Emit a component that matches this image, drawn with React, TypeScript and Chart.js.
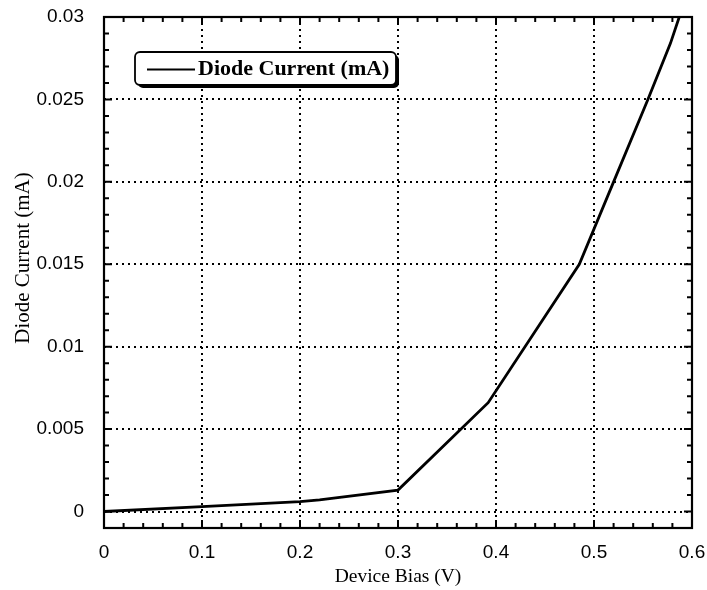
import React, { useEffect, useRef } from "react";
import { Chart, registerables } from "chart.js";

Chart.register(...registerables);

// Measured diode current versus applied device bias
const biasV = [0, 0.1, 0.2, 0.22, 0.3, 0.392, 0.485, 0.52, 0.555, 0.578, 0.587];
const currentMA = [0, 0.0003, 0.0006, 0.0007, 0.0013, 0.0066, 0.015, 0.02, 0.025, 0.0284, 0.03];

// Axis ticks and their labels
const xTickValues = [0, 0.1, 0.2, 0.3, 0.4, 0.5, 0.6];
const xTickLabels = ["0", "0.1", "0.2", "0.3", "0.4", "0.5", "0.6"];
const yTickValues = [0, 0.005, 0.01, 0.015, 0.02, 0.025, 0.03];
const yTickLabels = ["0", "0.005", "0.01", "0.015", "0.02", "0.025", "0.03"];

const seriesLabel = "Diode Current (mA)";
const xTitle = "Device Bias (V)";
const yTitle = "Diode Current (mA)";

const X_MIN = 0, X_MAX = 0.6, X_MINOR = 0.02;
const Y_MIN = -0.001, Y_MAX = 0.03, Y_MINOR = 0.001;

// Dotted grid, boxed frame with inward ticks on all four sides, shadowed legend box, y title
const framePlugin = {
  id: "frameAndGrid",
  beforeDatasetsDraw(chart: any) {
    const { ctx, chartArea: a, scales } = chart;
    const x = scales.x, y = scales.y;
    ctx.save();
    ctx.strokeStyle = "#000";
    ctx.lineWidth = 2;
    ctx.setLineDash([2, 4]);
    for (const v of xTickValues) {
      const px = Math.round(x.getPixelForValue(v));
      ctx.beginPath();
      ctx.moveTo(px, a.top);
      ctx.lineTo(px, a.bottom);
      ctx.stroke();
    }
    for (const v of yTickValues) {
      const py = Math.round(y.getPixelForValue(v));
      ctx.beginPath();
      ctx.moveTo(a.left, py);
      ctx.lineTo(a.right, py);
      ctx.stroke();
    }
    ctx.restore();
  },
  afterDatasetsDraw(chart: any) {
    const { ctx, chartArea: a, scales } = chart;
    const x = scales.x, y = scales.y;
    ctx.save();
    ctx.strokeStyle = "#000";
    ctx.setLineDash([]);
    ctx.lineWidth = 2.2;
    ctx.strokeRect(a.left, a.top, a.right - a.left, a.bottom - a.top);

    ctx.lineWidth = 2;
    const nx = Math.round((X_MAX - X_MIN) / X_MINOR);
    for (let i = 0; i <= nx; i++) {
      const v = X_MIN + i * X_MINOR;
      const len = i % 5 === 0 ? 8 : 5;
      const px = x.getPixelForValue(v);
      ctx.beginPath();
      ctx.moveTo(px, a.bottom);
      ctx.lineTo(px, a.bottom - len);
      ctx.moveTo(px, a.top);
      ctx.lineTo(px, a.top + len);
      ctx.stroke();
    }
    const ny = Math.round((Y_MAX - Y_MIN) / Y_MINOR);
    for (let i = 0; i <= ny; i++) {
      const v = Y_MIN + i * Y_MINOR;
      const k = Math.round(v / Y_MINOR);
      const len = k % 5 === 0 ? 8 : 5;
      const py = y.getPixelForValue(v);
      ctx.beginPath();
      ctx.moveTo(a.left, py);
      ctx.lineTo(a.left + len, py);
      ctx.moveTo(a.right, py);
      ctx.lineTo(a.right - len, py);
      ctx.stroke();
    }

    // legend box
    const bx = a.left + 31, by = a.top + 35, bw = 261, bh = 33, r = 5;
    const rr = (x0: number, y0: number) => {
      ctx.beginPath();
      ctx.moveTo(x0 + r, y0);
      ctx.lineTo(x0 + bw - r, y0);
      ctx.arcTo(x0 + bw, y0, x0 + bw, y0 + r, r);
      ctx.lineTo(x0 + bw, y0 + bh - r);
      ctx.arcTo(x0 + bw, y0 + bh, x0 + bw - r, y0 + bh, r);
      ctx.lineTo(x0 + r, y0 + bh);
      ctx.arcTo(x0, y0 + bh, x0, y0 + bh - r, r);
      ctx.lineTo(x0, y0 + r);
      ctx.arcTo(x0, y0, x0 + r, y0, r);
      ctx.closePath();
    };
    ctx.fillStyle = "#000";
    rr(bx + 3, by + 3);
    ctx.fill();
    ctx.fillStyle = "#fff";
    rr(bx, by);
    ctx.fill();
    ctx.lineWidth = 1.8;
    ctx.stroke();

    const cy = by + bh / 2 + 1;
    ctx.lineWidth = 2;
    ctx.beginPath();
    ctx.moveTo(bx + 12, cy);
    ctx.lineTo(bx + 60, cy);
    ctx.stroke();
    ctx.fillStyle = "#000";
    ctx.font = "bold 22px 'Liberation Serif'";
    ctx.textBaseline = "middle";
    ctx.textAlign = "left";
    ctx.fillText(chart.data.datasets[0].label, bx + 63, cy);

    // vertical axis title
    ctx.font = "21px 'Liberation Serif'";
    ctx.textAlign = "center";
    ctx.translate(23, 258);
    ctx.rotate(-Math.PI / 2);
    ctx.fillText(yTitle, 0, 0);
    ctx.restore();
  },
};

export default function App() {
  const canvasRef = useRef<HTMLCanvasElement | null>(null);

  useEffect(() => {
    if (!canvasRef.current) return;
    const points = biasV.map((v, i) => ({ x: v, y: currentMA[i] }));
    const chart = new Chart(canvasRef.current, {
      type: "line",
      data: {
        datasets: [
          {
            label: seriesLabel,
            data: points,
            borderColor: "#000",
            borderWidth: 2.8,
            pointRadius: 0,
            tension: 0,
            fill: false,
          },
        ],
      },
      plugins: [framePlugin],
      options: {
        animation: false,
        responsive: false,
        layout: { padding: { top: 17, right: 15, bottom: 0, left: 0 } },
        plugins: { legend: { display: false }, tooltip: { enabled: false } },
        scales: {
          x: {
            type: "linear",
            min: X_MIN,
            max: X_MAX,
            grid: { display: false },
            border: { display: false },
            afterBuildTicks: (s: any) => {
              s.ticks = xTickValues.map((v) => ({ value: v }));
            },
            afterFit: (s: any) => {
              s.height = 62;
              s.paddingLeft = 0;
              s.paddingRight = 0;
            },
            ticks: {
              color: "#000",
              padding: 5,
              maxRotation: 0,
              font: { family: "'Liberation Sans'", size: 19 },
              callback: (v: any) => {
                const i = xTickValues.findIndex((t) => Math.abs(t - v) < 1e-9);
                return i >= 0 ? xTickLabels[i] : "";
              },
            },
            title: {
              display: true,
              text: xTitle,
              color: "#000",
              font: { family: "'Liberation Serif'", size: 19.5 },
              padding: { top: 0, bottom: 1 },
            },
          },
          y: {
            type: "linear",
            min: Y_MIN,
            max: Y_MAX,
            grid: { display: false },
            border: { display: false },
            afterBuildTicks: (s: any) => {
              s.ticks = yTickValues.map((v) => ({ value: v }));
            },
            afterFit: (s: any) => {
              s.width = 104;
              s.paddingTop = 0;
              s.paddingBottom = 0;
            },
            ticks: {
              color: "#000",
              padding: 12,
              font: { family: "'Liberation Sans'", size: 19 },
              callback: (v: any) => {
                const i = yTickValues.findIndex((t) => Math.abs(t - v) < 1e-9);
                return i >= 0 ? yTickLabels[i] : "";
              },
            },
            title: { display: false },
          },
        },
      },
    });
    return () => chart.destroy();
  }, []);

  return (
    <div style={{ position: "absolute", left: 0, top: 0, width: 707, height: 590, background: "#fff" }}>
      <canvas ref={canvasRef} width={707} height={590} style={{ display: "block" }} />
    </div>
  );
}
